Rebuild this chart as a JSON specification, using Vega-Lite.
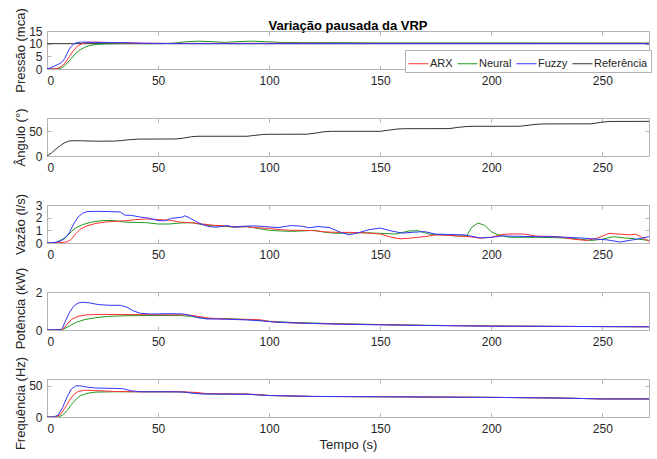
{
  "$schema": "https://vega.github.io/schema/vega-lite/v6.json",
  "background": "white",
  "padding": {"left": 13, "top": 7, "right": 5, "bottom": 5},
  "title": {"text": "Variação pausada da VRP", "font": "Liberation Sans", "fontSize": 13, "fontWeight": "bold", "color": "#000000", "anchor": "middle", "frame": "group", "offset": -26},
  "spacing": 49,
  "bounds": "flush",
  "config": {
    "font": "Liberation Sans",
    "numberFormat": "d",
    "view": {"stroke": "#b3b3b3", "strokeWidth": 1},
    "axis": {
      "domain": false, "grid": false,
      "labelFont": "Liberation Sans", "labelFontSize": 12, "labelColor": "#262626",
      "tickColor": "#b3b3b3", "tickSize": -4,
      "titleFont": "Liberation Sans", "titleFontSize": 13, "titleFontWeight": "normal", "titleColor": "#262626"
    },
    "axisX": {"labelPadding": 10, "titlePadding": 4},
    "axisY": {"labelPadding": 9},
    "axisLeft": {"titleX": -27, "titleY": 19, "titleAlign": "center", "titleBaseline": "middle", "titleAngle": -90},
    "legend": {
      "orient": "none", "legendX": 358, "legendY": 19, "direction": "horizontal",
      "fillColor": "white", "strokeColor": "#b3b3b3", "padding": 3,
      "symbolType": "stroke", "symbolSize": 400, "symbolStrokeWidth": 1,
      "labelFont": "Liberation Sans", "labelFontSize": 11, "labelColor": "#262626",
      "columnPadding": 2, "labelOffset": 1
    }
  },
  "datasets": {
    "pres": [
      {"s": "Referência", "t": 0, "v": 10}, {"s": "Referência", "t": 271, "v": 10},
      {"s": "Neural", "t": 0, "v": 0}, {"s": "Neural", "t": 5, "v": 0.05}, {"s": "Neural", "t": 7, "v": 0.6}, {"s": "Neural", "t": 9, "v": 2.2}, {"s": "Neural", "t": 11, "v": 4.2}, {"s": "Neural", "t": 13, "v": 6.2}, {"s": "Neural", "t": 15, "v": 7.6}, {"s": "Neural", "t": 17, "v": 8.6}, {"s": "Neural", "t": 19, "v": 9.2}, {"s": "Neural", "t": 22, "v": 9.7}, {"s": "Neural", "t": 26, "v": 9.9}, {"s": "Neural", "t": 35, "v": 10}, {"s": "Neural", "t": 52, "v": 10}, {"s": "Neural", "t": 57, "v": 10.2}, {"s": "Neural", "t": 62, "v": 10.7}, {"s": "Neural", "t": 68, "v": 11}, {"s": "Neural", "t": 74, "v": 10.8}, {"s": "Neural", "t": 80, "v": 10.5}, {"s": "Neural", "t": 86, "v": 10.8}, {"s": "Neural", "t": 92, "v": 11}, {"s": "Neural", "t": 98, "v": 10.8}, {"s": "Neural", "t": 105, "v": 10.5}, {"s": "Neural", "t": 115, "v": 10.4}, {"s": "Neural", "t": 130, "v": 10.4}, {"s": "Neural", "t": 150, "v": 10.3}, {"s": "Neural", "t": 200, "v": 10.3}, {"s": "Neural", "t": 271, "v": 10.25},
      {"s": "ARX", "t": 0, "v": 0}, {"s": "ARX", "t": 4, "v": 0.1}, {"s": "ARX", "t": 6, "v": 0.6}, {"s": "ARX", "t": 8, "v": 2.2}, {"s": "ARX", "t": 10, "v": 4.8}, {"s": "ARX", "t": 12, "v": 7.4}, {"s": "ARX", "t": 14, "v": 9.2}, {"s": "ARX", "t": 16, "v": 10.1}, {"s": "ARX", "t": 18, "v": 10.5}, {"s": "ARX", "t": 22, "v": 10.6}, {"s": "ARX", "t": 27, "v": 10.5}, {"s": "ARX", "t": 33, "v": 10.3}, {"s": "ARX", "t": 45, "v": 10.15}, {"s": "ARX", "t": 60, "v": 10.1}, {"s": "ARX", "t": 100, "v": 10.15}, {"s": "ARX", "t": 150, "v": 10.1}, {"s": "ARX", "t": 271, "v": 10.1},
      {"s": "Fuzzy", "t": 0, "v": 0}, {"s": "Fuzzy", "t": 2, "v": 0.6}, {"s": "Fuzzy", "t": 4, "v": 1.4}, {"s": "Fuzzy", "t": 6, "v": 2.3}, {"s": "Fuzzy", "t": 7, "v": 3}, {"s": "Fuzzy", "t": 8, "v": 4.2}, {"s": "Fuzzy", "t": 9, "v": 6}, {"s": "Fuzzy", "t": 10, "v": 7.8}, {"s": "Fuzzy", "t": 11, "v": 9}, {"s": "Fuzzy", "t": 12, "v": 9.8}, {"s": "Fuzzy", "t": 13, "v": 10.3}, {"s": "Fuzzy", "t": 15, "v": 10.6}, {"s": "Fuzzy", "t": 18, "v": 10.6}, {"s": "Fuzzy", "t": 22, "v": 10.5}, {"s": "Fuzzy", "t": 28, "v": 10.4}, {"s": "Fuzzy", "t": 35, "v": 10.4}, {"s": "Fuzzy", "t": 42, "v": 10.2}, {"s": "Fuzzy", "t": 50, "v": 10.1}, {"s": "Fuzzy", "t": 60, "v": 10}, {"s": "Fuzzy", "t": 271, "v": 10}
    ],
    "ang": [
      {"s": "Referência", "t": 0, "v": 0}, {"s": "Referência", "t": 2, "v": 6}, {"s": "Referência", "t": 4, "v": 14}, {"s": "Referência", "t": 6, "v": 21}, {"s": "Referência", "t": 8, "v": 27}, {"s": "Referência", "t": 10, "v": 30.5}, {"s": "Referência", "t": 12, "v": 31}, {"s": "Referência", "t": 16, "v": 30.8}, {"s": "Referência", "t": 22, "v": 30}, {"s": "Referência", "t": 30, "v": 30.2}, {"s": "Referência", "t": 33, "v": 31}, {"s": "Referência", "t": 37, "v": 33}, {"s": "Referência", "t": 41, "v": 34.2}, {"s": "Referência", "t": 50, "v": 34.4}, {"s": "Referência", "t": 58, "v": 34.5}, {"s": "Referência", "t": 61, "v": 36}, {"s": "Referência", "t": 65, "v": 39}, {"s": "Referência", "t": 68, "v": 40}, {"s": "Referência", "t": 90, "v": 40}, {"s": "Referência", "t": 93, "v": 41.5}, {"s": "Referência", "t": 97, "v": 43.5}, {"s": "Referência", "t": 100, "v": 44}, {"s": "Referência", "t": 117, "v": 44.2}, {"s": "Referência", "t": 121, "v": 46.5}, {"s": "Referência", "t": 125, "v": 49.3}, {"s": "Referência", "t": 128, "v": 50}, {"s": "Referência", "t": 150, "v": 50}, {"s": "Referência", "t": 154, "v": 52.5}, {"s": "Referência", "t": 158, "v": 54.8}, {"s": "Referência", "t": 161, "v": 55.3}, {"s": "Referência", "t": 181, "v": 55.5}, {"s": "Referência", "t": 185, "v": 58}, {"s": "Referência", "t": 189, "v": 59.8}, {"s": "Referência", "t": 192, "v": 60.2}, {"s": "Referência", "t": 213, "v": 60.3}, {"s": "Referência", "t": 217, "v": 62.5}, {"s": "Referência", "t": 221, "v": 64.5}, {"s": "Referência", "t": 224, "v": 65}, {"s": "Referência", "t": 245, "v": 65.2}, {"s": "Referência", "t": 249, "v": 68}, {"s": "Referência", "t": 253, "v": 70}, {"s": "Referência", "t": 271, "v": 70.2}
    ],
    "vaz": [
      {"s": "Neural", "t": 0, "v": 0}, {"s": "Neural", "t": 4, "v": 0.05}, {"s": "Neural", "t": 7, "v": 0.3}, {"s": "Neural", "t": 9, "v": 0.55}, {"s": "Neural", "t": 11, "v": 0.9}, {"s": "Neural", "t": 13, "v": 1.2}, {"s": "Neural", "t": 16, "v": 1.45}, {"s": "Neural", "t": 20, "v": 1.65}, {"s": "Neural", "t": 25, "v": 1.78}, {"s": "Neural", "t": 30, "v": 1.77}, {"s": "Neural", "t": 35, "v": 1.65}, {"s": "Neural", "t": 40, "v": 1.62}, {"s": "Neural", "t": 45, "v": 1.6}, {"s": "Neural", "t": 50, "v": 1.5}, {"s": "Neural", "t": 55, "v": 1.5}, {"s": "Neural", "t": 60, "v": 1.58}, {"s": "Neural", "t": 65, "v": 1.6}, {"s": "Neural", "t": 70, "v": 1.45}, {"s": "Neural", "t": 75, "v": 1.35}, {"s": "Neural", "t": 80, "v": 1.3}, {"s": "Neural", "t": 85, "v": 1.25}, {"s": "Neural", "t": 90, "v": 1.3}, {"s": "Neural", "t": 95, "v": 1.15}, {"s": "Neural", "t": 100, "v": 1.0}, {"s": "Neural", "t": 105, "v": 0.95}, {"s": "Neural", "t": 110, "v": 0.92}, {"s": "Neural", "t": 115, "v": 0.95}, {"s": "Neural", "t": 120, "v": 1.0}, {"s": "Neural", "t": 125, "v": 0.85}, {"s": "Neural", "t": 130, "v": 0.76}, {"s": "Neural", "t": 136, "v": 0.79}, {"s": "Neural", "t": 142, "v": 0.82}, {"s": "Neural", "t": 150, "v": 0.76}, {"s": "Neural", "t": 157, "v": 0.71}, {"s": "Neural", "t": 163, "v": 0.95}, {"s": "Neural", "t": 167, "v": 0.97}, {"s": "Neural", "t": 172, "v": 0.7}, {"s": "Neural", "t": 178, "v": 0.64}, {"s": "Neural", "t": 185, "v": 0.55}, {"s": "Neural", "t": 189, "v": 0.57}, {"s": "Neural", "t": 191, "v": 1.2}, {"s": "Neural", "t": 194, "v": 1.58}, {"s": "Neural", "t": 197, "v": 1.4}, {"s": "Neural", "t": 200, "v": 0.9}, {"s": "Neural", "t": 203, "v": 0.64}, {"s": "Neural", "t": 208, "v": 0.45}, {"s": "Neural", "t": 220, "v": 0.45}, {"s": "Neural", "t": 230, "v": 0.42}, {"s": "Neural", "t": 235, "v": 0.38}, {"s": "Neural", "t": 240, "v": 0.3}, {"s": "Neural", "t": 245, "v": 0.2}, {"s": "Neural", "t": 250, "v": 0.3}, {"s": "Neural", "t": 255, "v": 0.5}, {"s": "Neural", "t": 260, "v": 0.4}, {"s": "Neural", "t": 265, "v": 0.33}, {"s": "Neural", "t": 271, "v": 0.2},
      {"s": "ARX", "t": 0, "v": 0}, {"s": "ARX", "t": 5, "v": 0.02}, {"s": "ARX", "t": 9, "v": 0.08}, {"s": "ARX", "t": 11, "v": 0.3}, {"s": "ARX", "t": 13, "v": 0.75}, {"s": "ARX", "t": 15, "v": 1.1}, {"s": "ARX", "t": 18, "v": 1.35}, {"s": "ARX", "t": 22, "v": 1.55}, {"s": "ARX", "t": 26, "v": 1.65}, {"s": "ARX", "t": 30, "v": 1.7}, {"s": "ARX", "t": 35, "v": 1.75}, {"s": "ARX", "t": 40, "v": 1.85}, {"s": "ARX", "t": 45, "v": 1.9}, {"s": "ARX", "t": 50, "v": 1.85}, {"s": "ARX", "t": 55, "v": 1.8}, {"s": "ARX", "t": 60, "v": 1.65}, {"s": "ARX", "t": 65, "v": 1.6}, {"s": "ARX", "t": 70, "v": 1.5}, {"s": "ARX", "t": 75, "v": 1.4}, {"s": "ARX", "t": 80, "v": 1.35}, {"s": "ARX", "t": 85, "v": 1.28}, {"s": "ARX", "t": 90, "v": 1.28}, {"s": "ARX", "t": 95, "v": 1.2}, {"s": "ARX", "t": 100, "v": 1.15}, {"s": "ARX", "t": 105, "v": 1.05}, {"s": "ARX", "t": 110, "v": 1.0}, {"s": "ARX", "t": 115, "v": 1.0}, {"s": "ARX", "t": 120, "v": 0.98}, {"s": "ARX", "t": 125, "v": 0.88}, {"s": "ARX", "t": 130, "v": 0.84}, {"s": "ARX", "t": 136, "v": 0.84}, {"s": "ARX", "t": 145, "v": 0.78}, {"s": "ARX", "t": 150, "v": 0.71}, {"s": "ARX", "t": 155, "v": 0.45}, {"s": "ARX", "t": 159, "v": 0.33}, {"s": "ARX", "t": 163, "v": 0.38}, {"s": "ARX", "t": 170, "v": 0.5}, {"s": "ARX", "t": 175, "v": 0.64}, {"s": "ARX", "t": 180, "v": 0.62}, {"s": "ARX", "t": 185, "v": 0.55}, {"s": "ARX", "t": 190, "v": 0.5}, {"s": "ARX", "t": 195, "v": 0.38}, {"s": "ARX", "t": 200, "v": 0.45}, {"s": "ARX", "t": 205, "v": 0.68}, {"s": "ARX", "t": 210, "v": 0.72}, {"s": "ARX", "t": 215, "v": 0.7}, {"s": "ARX", "t": 220, "v": 0.55}, {"s": "ARX", "t": 230, "v": 0.5}, {"s": "ARX", "t": 237, "v": 0.3}, {"s": "ARX", "t": 243, "v": 0.2}, {"s": "ARX", "t": 248, "v": 0.4}, {"s": "ARX", "t": 253, "v": 0.76}, {"s": "ARX", "t": 258, "v": 0.7}, {"s": "ARX", "t": 262, "v": 0.64}, {"s": "ARX", "t": 265, "v": 0.7}, {"s": "ARX", "t": 271, "v": 0.15},
      {"s": "Fuzzy", "t": 0, "v": 0}, {"s": "Fuzzy", "t": 3, "v": 0.03}, {"s": "Fuzzy", "t": 6, "v": 0.15}, {"s": "Fuzzy", "t": 8, "v": 0.35}, {"s": "Fuzzy", "t": 10, "v": 0.8}, {"s": "Fuzzy", "t": 12, "v": 1.5}, {"s": "Fuzzy", "t": 14, "v": 2.05}, {"s": "Fuzzy", "t": 16, "v": 2.35}, {"s": "Fuzzy", "t": 18, "v": 2.48}, {"s": "Fuzzy", "t": 22, "v": 2.5}, {"s": "Fuzzy", "t": 28, "v": 2.48}, {"s": "Fuzzy", "t": 33, "v": 2.45}, {"s": "Fuzzy", "t": 35, "v": 2.2}, {"s": "Fuzzy", "t": 38, "v": 2.18}, {"s": "Fuzzy", "t": 42, "v": 2.05}, {"s": "Fuzzy", "t": 46, "v": 1.95}, {"s": "Fuzzy", "t": 50, "v": 1.78}, {"s": "Fuzzy", "t": 53, "v": 1.75}, {"s": "Fuzzy", "t": 56, "v": 1.95}, {"s": "Fuzzy", "t": 59, "v": 2.0}, {"s": "Fuzzy", "t": 61, "v": 2.05}, {"s": "Fuzzy", "t": 62, "v": 2.15}, {"s": "Fuzzy", "t": 64, "v": 2.0}, {"s": "Fuzzy", "t": 67, "v": 1.7}, {"s": "Fuzzy", "t": 70, "v": 1.45}, {"s": "Fuzzy", "t": 73, "v": 1.3}, {"s": "Fuzzy", "t": 76, "v": 1.25}, {"s": "Fuzzy", "t": 79, "v": 1.32}, {"s": "Fuzzy", "t": 81, "v": 1.38}, {"s": "Fuzzy", "t": 84, "v": 1.25}, {"s": "Fuzzy", "t": 88, "v": 1.32}, {"s": "Fuzzy", "t": 93, "v": 1.35}, {"s": "Fuzzy", "t": 98, "v": 1.3}, {"s": "Fuzzy", "t": 104, "v": 1.22}, {"s": "Fuzzy", "t": 110, "v": 1.38}, {"s": "Fuzzy", "t": 115, "v": 1.32}, {"s": "Fuzzy", "t": 118, "v": 1.2}, {"s": "Fuzzy", "t": 122, "v": 1.3}, {"s": "Fuzzy", "t": 127, "v": 1.23}, {"s": "Fuzzy", "t": 132, "v": 0.85}, {"s": "Fuzzy", "t": 136, "v": 0.64}, {"s": "Fuzzy", "t": 140, "v": 0.8}, {"s": "Fuzzy", "t": 145, "v": 1.05}, {"s": "Fuzzy", "t": 150, "v": 1.18}, {"s": "Fuzzy", "t": 155, "v": 0.95}, {"s": "Fuzzy", "t": 160, "v": 0.78}, {"s": "Fuzzy", "t": 165, "v": 0.85}, {"s": "Fuzzy", "t": 170, "v": 0.9}, {"s": "Fuzzy", "t": 175, "v": 0.7}, {"s": "Fuzzy", "t": 180, "v": 0.68}, {"s": "Fuzzy", "t": 188, "v": 0.64}, {"s": "Fuzzy", "t": 195, "v": 0.4}, {"s": "Fuzzy", "t": 200, "v": 0.45}, {"s": "Fuzzy", "t": 205, "v": 0.56}, {"s": "Fuzzy", "t": 212, "v": 0.53}, {"s": "Fuzzy", "t": 220, "v": 0.5}, {"s": "Fuzzy", "t": 230, "v": 0.48}, {"s": "Fuzzy", "t": 240, "v": 0.4}, {"s": "Fuzzy", "t": 248, "v": 0.3}, {"s": "Fuzzy", "t": 252, "v": 0.25}, {"s": "Fuzzy", "t": 258, "v": 0.08}, {"s": "Fuzzy", "t": 262, "v": 0.2}, {"s": "Fuzzy", "t": 265, "v": 0.28}, {"s": "Fuzzy", "t": 271, "v": 0.5}
    ],
    "pot": [
      {"s": "Neural", "t": 0, "v": 0}, {"s": "Neural", "t": 7, "v": 0.02}, {"s": "Neural", "t": 10, "v": 0.2}, {"s": "Neural", "t": 13, "v": 0.4}, {"s": "Neural", "t": 17, "v": 0.55}, {"s": "Neural", "t": 22, "v": 0.65}, {"s": "Neural", "t": 28, "v": 0.72}, {"s": "Neural", "t": 35, "v": 0.75}, {"s": "Neural", "t": 45, "v": 0.76}, {"s": "Neural", "t": 60, "v": 0.76}, {"s": "Neural", "t": 65, "v": 0.72}, {"s": "Neural", "t": 70, "v": 0.62}, {"s": "Neural", "t": 80, "v": 0.6}, {"s": "Neural", "t": 90, "v": 0.55}, {"s": "Neural", "t": 100, "v": 0.46}, {"s": "Neural", "t": 110, "v": 0.4}, {"s": "Neural", "t": 130, "v": 0.33}, {"s": "Neural", "t": 150, "v": 0.29}, {"s": "Neural", "t": 170, "v": 0.25}, {"s": "Neural", "t": 200, "v": 0.21}, {"s": "Neural", "t": 230, "v": 0.19}, {"s": "Neural", "t": 250, "v": 0.18}, {"s": "Neural", "t": 271, "v": 0.17},
      {"s": "ARX", "t": 0, "v": 0}, {"s": "ARX", "t": 7, "v": 0.02}, {"s": "ARX", "t": 9, "v": 0.3}, {"s": "ARX", "t": 11, "v": 0.55}, {"s": "ARX", "t": 14, "v": 0.72}, {"s": "ARX", "t": 18, "v": 0.8}, {"s": "ARX", "t": 25, "v": 0.82}, {"s": "ARX", "t": 40, "v": 0.81}, {"s": "ARX", "t": 55, "v": 0.8}, {"s": "ARX", "t": 63, "v": 0.8}, {"s": "ARX", "t": 68, "v": 0.72}, {"s": "ARX", "t": 73, "v": 0.62}, {"s": "ARX", "t": 80, "v": 0.58}, {"s": "ARX", "t": 90, "v": 0.56}, {"s": "ARX", "t": 96, "v": 0.54}, {"s": "ARX", "t": 100, "v": 0.45}, {"s": "ARX", "t": 105, "v": 0.4}, {"s": "ARX", "t": 115, "v": 0.35}, {"s": "ARX", "t": 130, "v": 0.32}, {"s": "ARX", "t": 150, "v": 0.28}, {"s": "ARX", "t": 170, "v": 0.24}, {"s": "ARX", "t": 200, "v": 0.21}, {"s": "ARX", "t": 230, "v": 0.19}, {"s": "ARX", "t": 250, "v": 0.18}, {"s": "ARX", "t": 271, "v": 0.17},
      {"s": "Fuzzy", "t": 0, "v": 0}, {"s": "Fuzzy", "t": 6, "v": 0.02}, {"s": "Fuzzy", "t": 7, "v": 0.1}, {"s": "Fuzzy", "t": 8, "v": 0.4}, {"s": "Fuzzy", "t": 10, "v": 0.9}, {"s": "Fuzzy", "t": 12, "v": 1.25}, {"s": "Fuzzy", "t": 14, "v": 1.42}, {"s": "Fuzzy", "t": 16, "v": 1.46}, {"s": "Fuzzy", "t": 19, "v": 1.43}, {"s": "Fuzzy", "t": 23, "v": 1.34}, {"s": "Fuzzy", "t": 28, "v": 1.3}, {"s": "Fuzzy", "t": 33, "v": 1.3}, {"s": "Fuzzy", "t": 36, "v": 1.2}, {"s": "Fuzzy", "t": 39, "v": 1.0}, {"s": "Fuzzy", "t": 42, "v": 0.88}, {"s": "Fuzzy", "t": 47, "v": 0.84}, {"s": "Fuzzy", "t": 55, "v": 0.86}, {"s": "Fuzzy", "t": 61, "v": 0.85}, {"s": "Fuzzy", "t": 64, "v": 0.78}, {"s": "Fuzzy", "t": 68, "v": 0.65}, {"s": "Fuzzy", "t": 72, "v": 0.58}, {"s": "Fuzzy", "t": 80, "v": 0.57}, {"s": "Fuzzy", "t": 90, "v": 0.53}, {"s": "Fuzzy", "t": 97, "v": 0.48}, {"s": "Fuzzy", "t": 102, "v": 0.42}, {"s": "Fuzzy", "t": 110, "v": 0.38}, {"s": "Fuzzy", "t": 130, "v": 0.31}, {"s": "Fuzzy", "t": 150, "v": 0.27}, {"s": "Fuzzy", "t": 170, "v": 0.24}, {"s": "Fuzzy", "t": 200, "v": 0.2}, {"s": "Fuzzy", "t": 230, "v": 0.19}, {"s": "Fuzzy", "t": 250, "v": 0.18}, {"s": "Fuzzy", "t": 271, "v": 0.17}
    ],
    "freq": [
      {"s": "Neural", "t": 0, "v": 0}, {"s": "Neural", "t": 5, "v": 0}, {"s": "Neural", "t": 7, "v": 3}, {"s": "Neural", "t": 9, "v": 10}, {"s": "Neural", "t": 11, "v": 20}, {"s": "Neural", "t": 13, "v": 28}, {"s": "Neural", "t": 15, "v": 34}, {"s": "Neural", "t": 18, "v": 38}, {"s": "Neural", "t": 22, "v": 40}, {"s": "Neural", "t": 30, "v": 40.5}, {"s": "Neural", "t": 60, "v": 40.5}, {"s": "Neural", "t": 66, "v": 38.5}, {"s": "Neural", "t": 72, "v": 37}, {"s": "Neural", "t": 90, "v": 36.5}, {"s": "Neural", "t": 100, "v": 34.5}, {"s": "Neural", "t": 120, "v": 33}, {"s": "Neural", "t": 150, "v": 32.5}, {"s": "Neural", "t": 200, "v": 31.5}, {"s": "Neural", "t": 230, "v": 30.5}, {"s": "Neural", "t": 250, "v": 29}, {"s": "Neural", "t": 271, "v": 29},
      {"s": "ARX", "t": 0, "v": 0}, {"s": "ARX", "t": 4, "v": 0}, {"s": "ARX", "t": 6, "v": 4}, {"s": "ARX", "t": 8, "v": 14}, {"s": "ARX", "t": 10, "v": 26}, {"s": "ARX", "t": 12, "v": 36}, {"s": "ARX", "t": 14, "v": 41}, {"s": "ARX", "t": 17, "v": 43}, {"s": "ARX", "t": 22, "v": 42.5}, {"s": "ARX", "t": 30, "v": 41}, {"s": "ARX", "t": 40, "v": 40.5}, {"s": "ARX", "t": 60, "v": 40.5}, {"s": "ARX", "t": 67, "v": 39.5}, {"s": "ARX", "t": 72, "v": 37.5}, {"s": "ARX", "t": 90, "v": 37}, {"s": "ARX", "t": 95, "v": 36}, {"s": "ARX", "t": 100, "v": 34.5}, {"s": "ARX", "t": 120, "v": 33}, {"s": "ARX", "t": 150, "v": 32.5}, {"s": "ARX", "t": 200, "v": 31.5}, {"s": "ARX", "t": 230, "v": 30.5}, {"s": "ARX", "t": 250, "v": 29}, {"s": "ARX", "t": 271, "v": 29},
      {"s": "Fuzzy", "t": 0, "v": 0}, {"s": "Fuzzy", "t": 3, "v": 0}, {"s": "Fuzzy", "t": 5, "v": 3}, {"s": "Fuzzy", "t": 7, "v": 15}, {"s": "Fuzzy", "t": 9, "v": 32}, {"s": "Fuzzy", "t": 11, "v": 45}, {"s": "Fuzzy", "t": 13, "v": 50}, {"s": "Fuzzy", "t": 15, "v": 50}, {"s": "Fuzzy", "t": 18, "v": 48}, {"s": "Fuzzy", "t": 22, "v": 46.5}, {"s": "Fuzzy", "t": 30, "v": 46}, {"s": "Fuzzy", "t": 34, "v": 45.5}, {"s": "Fuzzy", "t": 38, "v": 42}, {"s": "Fuzzy", "t": 42, "v": 40.5}, {"s": "Fuzzy", "t": 55, "v": 40.5}, {"s": "Fuzzy", "t": 62, "v": 40}, {"s": "Fuzzy", "t": 66, "v": 38}, {"s": "Fuzzy", "t": 70, "v": 37}, {"s": "Fuzzy", "t": 90, "v": 36.5}, {"s": "Fuzzy", "t": 100, "v": 34.5}, {"s": "Fuzzy", "t": 120, "v": 33}, {"s": "Fuzzy", "t": 150, "v": 32.5}, {"s": "Fuzzy", "t": 200, "v": 31.5}, {"s": "Fuzzy", "t": 230, "v": 30.5}, {"s": "Fuzzy", "t": 250, "v": 29}, {"s": "Fuzzy", "t": 271, "v": 29}
    ]
  },
  "vconcat": [
    {
      "width": 602, "height": 38, "data": {"name": "pres"},
      "layer": [
        {"mark": {"type": "line", "strokeWidth": 1, "clip": true},
         "encoding": {
           "x": {"field": "t", "type": "quantitative", "scale": {"domain": [0, 271], "nice": false}, "axis": {"values": [0, 50, 100, 150, 200, 250], "title": null}},
           "y": {"field": "v", "type": "quantitative", "scale": {"domain": [0, 15], "nice": false}, "axis": {"values": [0, 5, 10, 15], "title": "Pressão (mca)"}},
           "color": {"field": "s", "type": "nominal", "scale": {"domain": ["ARX", "Neural", "Fuzzy", "Referência"], "range": ["#ff3030", "#1f9a1f", "#3535ff", "#303030"]}, "legend": {"title": null}}
         }},
        {"mark": {"type": "line", "opacity": 0},
         "encoding": {
           "x": {"field": "t", "type": "quantitative", "axis": {"orient": "top", "labels": false, "values": [0, 50, 100, 150, 200, 250], "title": null}},
           "y": {"field": "v", "type": "quantitative", "axis": {"orient": "right", "labels": false, "values": [0, 5, 10, 15], "title": null}},
           "detail": {"field": "s"}
         }}
      ],
      "resolve": {"axis": {"x": "independent", "y": "independent"}}
    },
    {
      "width": 602, "height": 38, "data": {"name": "ang"},
      "layer": [
        {"mark": {"type": "line", "strokeWidth": 1, "clip": true},
         "encoding": {
           "x": {"field": "t", "type": "quantitative", "scale": {"domain": [0, 271], "nice": false}, "axis": {"values": [0, 50, 100, 150, 200, 250], "title": null}},
           "y": {"field": "v", "type": "quantitative", "scale": {"domain": [0, 77], "nice": false}, "axis": {"values": [0, 50], "title": "Ângulo (°)"}},
           "color": {"field": "s", "type": "nominal", "scale": {"domain": ["ARX", "Neural", "Fuzzy", "Referência"], "range": ["#ff3030", "#1f9a1f", "#3535ff", "#303030"]}, "legend": {"title": null}}
         }},
        {"mark": {"type": "line", "opacity": 0},
         "encoding": {
           "x": {"field": "t", "type": "quantitative", "axis": {"orient": "top", "labels": false, "values": [0, 50, 100, 150, 200, 250], "title": null}},
           "y": {"field": "v", "type": "quantitative", "axis": {"orient": "right", "labels": false, "values": [0, 50], "title": null}},
           "detail": {"field": "s"}
         }}
      ],
      "resolve": {"axis": {"x": "independent", "y": "independent"}}
    },
    {
      "width": 602, "height": 38, "data": {"name": "vaz"},
      "layer": [
        {"mark": {"type": "line", "strokeWidth": 1, "clip": true},
         "encoding": {
           "x": {"field": "t", "type": "quantitative", "scale": {"domain": [0, 271], "nice": false}, "axis": {"values": [0, 50, 100, 150, 200, 250], "title": null}},
           "y": {"field": "v", "type": "quantitative", "scale": {"domain": [0, 3], "nice": false}, "axis": {"values": [0, 1, 2, 3], "title": "Vazão (l/s)"}},
           "color": {"field": "s", "type": "nominal", "scale": {"domain": ["ARX", "Neural", "Fuzzy", "Referência"], "range": ["#ff3030", "#1f9a1f", "#3535ff", "#303030"]}, "legend": {"title": null}}
         }},
        {"mark": {"type": "line", "opacity": 0},
         "encoding": {
           "x": {"field": "t", "type": "quantitative", "axis": {"orient": "top", "labels": false, "values": [0, 50, 100, 150, 200, 250], "title": null}},
           "y": {"field": "v", "type": "quantitative", "axis": {"orient": "right", "labels": false, "values": [0, 1, 2, 3], "title": null}},
           "detail": {"field": "s"}
         }}
      ],
      "resolve": {"axis": {"x": "independent", "y": "independent"}}
    },
    {
      "width": 602, "height": 38, "data": {"name": "pot"},
      "layer": [
        {"mark": {"type": "line", "strokeWidth": 1, "clip": true},
         "encoding": {
           "x": {"field": "t", "type": "quantitative", "scale": {"domain": [0, 271], "nice": false}, "axis": {"values": [0, 50, 100, 150, 200, 250], "title": null}},
           "y": {"field": "v", "type": "quantitative", "scale": {"domain": [0, 2], "nice": false}, "axis": {"values": [0, 1, 2], "title": "Potência (kW)", "titleY": 16}},
           "color": {"field": "s", "type": "nominal", "scale": {"domain": ["ARX", "Neural", "Fuzzy", "Referência"], "range": ["#ff3030", "#1f9a1f", "#3535ff", "#303030"]}, "legend": {"title": null}}
         }},
        {"mark": {"type": "line", "opacity": 0},
         "encoding": {
           "x": {"field": "t", "type": "quantitative", "axis": {"orient": "top", "labels": false, "values": [0, 50, 100, 150, 200, 250], "title": null}},
           "y": {"field": "v", "type": "quantitative", "axis": {"orient": "right", "labels": false, "values": [0, 1, 2], "title": null}},
           "detail": {"field": "s"}
         }}
      ],
      "resolve": {"axis": {"x": "independent", "y": "independent"}}
    },
    {
      "width": 602, "height": 38, "data": {"name": "freq"},
      "layer": [
        {"mark": {"type": "line", "strokeWidth": 1, "clip": true},
         "encoding": {
           "x": {"field": "t", "type": "quantitative", "scale": {"domain": [0, 271], "nice": false}, "axis": {"values": [0, 50, 100, 150, 200, 250], "title": "Tempo (s)"}},
           "y": {"field": "v", "type": "quantitative", "scale": {"domain": [0, 61], "nice": false}, "axis": {"values": [0, 50], "title": "Frequência (Hz)", "titleY": 24}},
           "color": {"field": "s", "type": "nominal", "scale": {"domain": ["ARX", "Neural", "Fuzzy", "Referência"], "range": ["#ff3030", "#1f9a1f", "#3535ff", "#303030"]}, "legend": {"title": null}}
         }},
        {"mark": {"type": "line", "opacity": 0},
         "encoding": {
           "x": {"field": "t", "type": "quantitative", "axis": {"orient": "top", "labels": false, "values": [0, 50, 100, 150, 200, 250], "title": null}},
           "y": {"field": "v", "type": "quantitative", "axis": {"orient": "right", "labels": false, "values": [0, 50], "title": null}},
           "detail": {"field": "s"}
         }}
      ],
      "resolve": {"axis": {"x": "independent", "y": "independent"}}
    }
  ]
}
